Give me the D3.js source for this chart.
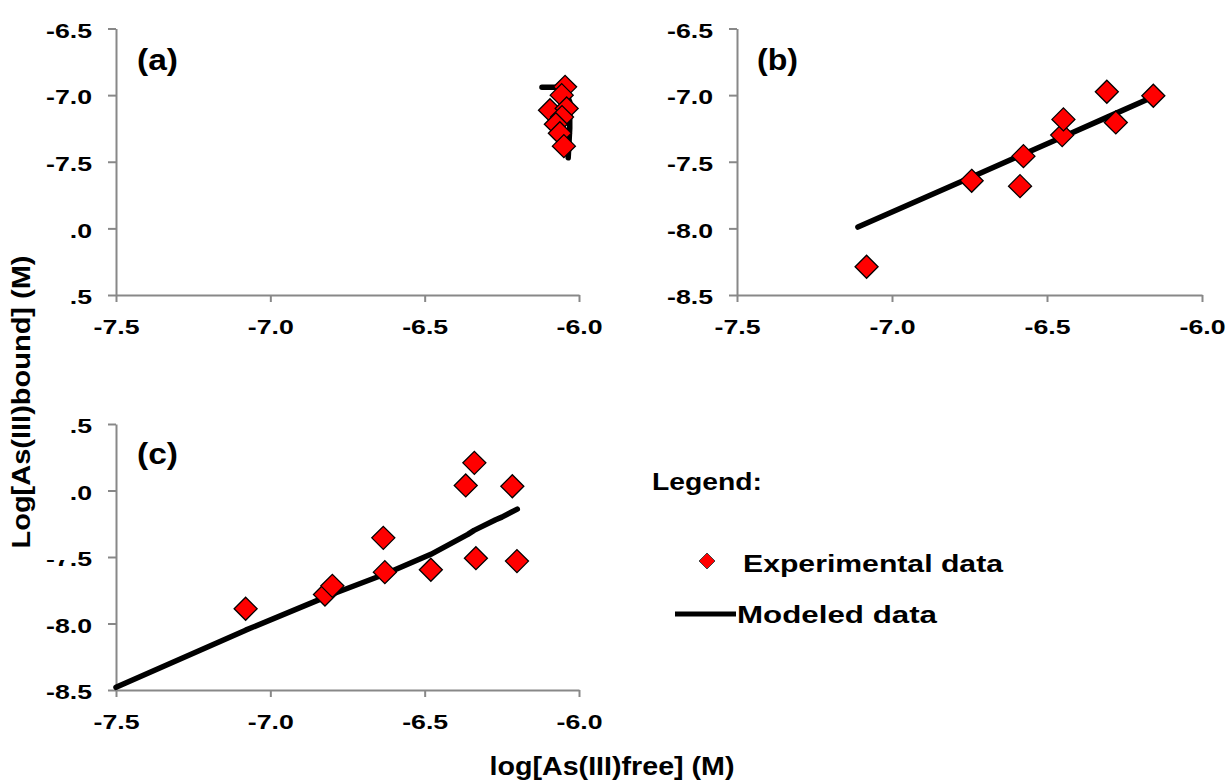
<!DOCTYPE html>
<html>
<head>
<meta charset="utf-8">
<script src="https://cdn.jsdelivr.net/npm/d3@7"></script>
<style>
html,body{margin:0;padding:0;background:#fff;}
svg{display:block;}
text{font-family:"Liberation Sans",Arial,sans-serif;font-weight:bold;fill:#000;}
</style>
</head>
<body>
<svg id="chart" width="1229" height="783"></svg>
<script>
// ---- data ----
const xTicks = [-7.5, -7.0, -6.5, -6.0];
const xTickLabels = ["-7.5", "-7.0", "-6.5", "-6.0"];
const yTicks = [-8.5, -8.0, -7.5, -7.0, -6.5];
const yTickLabels = ["-8.5", "-8.0", "-7.5", "-7.0", "-6.5"];
const panelLabels = ["(a)", "(b)", "(c)"];

const aExpX = [-6.045, -6.056, -6.094, -6.040, -6.055, -6.075, -6.062, -6.049];
const aExpY = [-6.938, -7.000, -7.113, -7.100, -7.165, -7.218, -7.286, -7.383];
const aModX = [-6.12, -6.05, -6.03, -6.03, -6.035];
const aModY = [-6.94, -6.94, -7.05, -7.25, -7.47];

const bExpX = [-7.082, -6.743, -6.587, -6.576, -6.451, -6.447, -6.307, -6.278, -6.157];
const bExpY = [-8.288, -7.643, -7.683, -7.458, -7.300, -7.182, -6.975, -7.205, -7.005];
const bModX = [-7.11, -6.743, -6.58, -6.45, -6.307, -6.278, -6.157];
const bModY = [-7.99, -7.614, -7.447, -7.314, -7.167, -7.137, -7.013];

const cExpX = [-7.080, -6.823, -6.799, -6.634, -6.629, -6.480, -6.367, -6.339, -6.334, -6.216, -6.201];
const cExpY = [-7.889, -7.782, -7.717, -7.356, -7.614, -7.596, -6.962, -6.792, -7.509, -6.968, -7.531];
const cModX = [-7.5, -7.08, -6.82, -6.80, -6.63, -6.48, -6.36, -6.34, -6.27, -6.25, -6.20];
const cModY = [-8.48, -8.05, -7.80, -7.78, -7.63, -7.48, -7.33, -7.30, -7.22, -7.20, -7.14];

const legendTitle = "Legend:";
const legendItems = ["Experimental data", "Modeled data"];
const xTitle = "log[As(III)free] (M)";
const yTitle = "Log[As(III)bound] (M)";

// ---- drawing ----
const svg = d3.select("#chart");
const axisColor = "#888888";
const diamond = r => `M0,${-r}L${r},0L0,${r}L${-r},0Z`;

const panels = [
  {label: panelLabels[0], xr: [116, 579], yr: [295, 28.5], ex: aExpX, ey: aExpY, mx: aModX, my: aModY, lab: [137, 70]},
  {label: panelLabels[1], xr: [737, 1202], yr: [295, 28.5], ex: bExpX, ey: bExpY, mx: bModX, my: bModY, lab: [757, 70]},
  {label: panelLabels[2], xr: [116, 579], yr: [690, 424], ex: cExpX, ey: cExpY, mx: cModX, my: cModY, lab: [137, 464]}
];

panels.forEach(p => {
  const x = d3.scaleLinear().domain([-7.5, -6.0]).range(p.xr);
  const y = d3.scaleLinear().domain([-8.5, -6.5]).range(p.yr);
  const g = svg.append("g");

  const yAxis = d3.axisLeft(y).tickValues(yTicks).tickSize(8).tickSizeOuter(0).tickPadding(16)
    .tickFormat((d, i) => yTickLabels[i]);
  const gy = g.append("g").attr("transform", `translate(${p.xr[0]},0)`).call(yAxis);
  const xAxis = d3.axisBottom(x).tickValues(xTicks).tickSize(7).tickSizeOuter(0).tickPadding(17)
    .tickFormat((d, i) => xTickLabels[i]);
  const gx = g.append("g").attr("transform", `translate(0,${p.yr[0]})`).call(xAxis);
  [gx, gy].forEach(ax => {
    ax.select(".domain").attr("stroke", axisColor).attr("stroke-width", 2);
    ax.selectAll(".tick line").attr("stroke", axisColor).attr("stroke-width", 2);
    ax.selectAll(".tick text").attr("font-size", 21).attr("font-weight", "bold")
      .attr("font-family", '"Liberation Sans",Arial,sans-serif').attr("fill", "#000")
      .attr("textLength", 46).attr("lengthAdjust", "spacingAndGlyphs");
  });
  gy.selectAll(".tick text").attr("dy", "0.42em");

  const line = d3.line().x(d => x(d[0])).y(d => y(d[1]));
  g.append("path").datum(p.mx.map((v, i) => [v, p.my[i]]))
    .attr("d", line).attr("fill", "none").attr("stroke", "#000")
    .attr("stroke-width", 5.5).attr("stroke-linejoin", "round").attr("stroke-linecap", "round");

  g.selectAll("path.pt").data(p.ex.map((v, i) => [v, p.ey[i]])).join("path")
    .attr("class", "pt")
    .attr("transform", d => `translate(${x(d[0])},${y(d[1])})`)
    .attr("d", diamond(11.5)).attr("fill", "#ff0000").attr("stroke", "#000").attr("stroke-width", 1.3);

  g.append("text").attr("x", p.lab[0]).attr("y", p.lab[1]).attr("font-size", 29)
    .attr("textLength", 41).attr("lengthAdjust", "spacingAndGlyphs").text(p.label);
});

// axis title box (covers part of the tick labels, as in the original)
svg.append("rect").attr("x", 0).attr("y", 180).attr("width", 71).attr("height", 380).attr("fill", "#fff");
svg.append("text").attr("transform", "translate(30,402) rotate(-90)").attr("text-anchor", "middle")
  .attr("font-size", 26).attr("textLength", 293).attr("lengthAdjust", "spacingAndGlyphs").text(yTitle);
svg.append("text").attr("x", 612).attr("y", 775).attr("text-anchor", "middle")
  .attr("font-size", 26).attr("textLength", 245).attr("lengthAdjust", "spacingAndGlyphs").text(xTitle);

// legend
svg.append("text").attr("x", 652).attr("y", 490).attr("font-size", 23)
  .attr("textLength", 110).attr("lengthAdjust", "spacingAndGlyphs").text(legendTitle);
svg.append("path").attr("transform", "translate(707,561)").attr("d", diamond(8))
  .attr("fill", "#ff0000").attr("stroke", "#444").attr("stroke-width", 1);
svg.append("text").attr("x", 743).attr("y", 572).attr("font-size", 23)
  .attr("textLength", 260).attr("lengthAdjust", "spacingAndGlyphs").text(legendItems[0]);
svg.append("line").attr("x1", 675).attr("x2", 736).attr("y1", 614).attr("y2", 614)
  .attr("stroke", "#000").attr("stroke-width", 5);
svg.append("text").attr("x", 737).attr("y", 623).attr("font-size", 23)
  .attr("textLength", 200).attr("lengthAdjust", "spacingAndGlyphs").text(legendItems[1]);
</script>
</body>
</html>
